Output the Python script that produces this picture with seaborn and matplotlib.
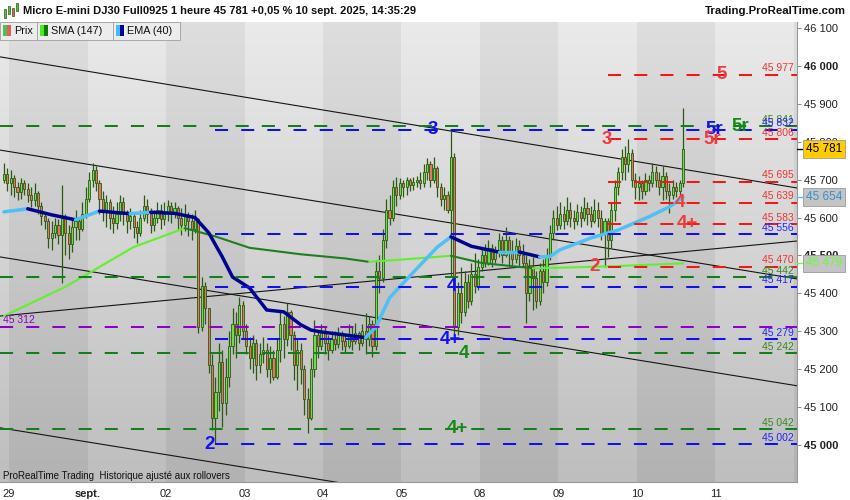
import numpy as np
import pandas as pd
import seaborn as sns
import matplotlib.pyplot as plt
import matplotlib.transforms as mtransforms
from matplotlib.patches import Rectangle

# hourly bars, 28 aug 21h -> 10 sept 14h (open of each bar = previous close)
first_open = 45700
closes = [
    45715, 45690, 45705, 45680, 45668, 45690, 45675, 45660, 45645, 45665,
    45630, 45605, 45590, 45545, 45560, 45580, 45555, 45600, 45560, 45530,
    45575, 45590, 45570, 45610, 45650, 45700, 45725, 45690, 45650, 45620,
    45640, 45600, 45585, 45610, 45640, 45610, 45590, 45605, 45575, 45560,
    45600, 45630, 45610, 45580, 45600, 45620, 45595, 45610, 45630, 45615,
    45625, 45600, 45580, 45605, 45590, 45570, 45595, 45310, 45420, 45360,
    45210, 45070, 45140, 45220, 45110, 45180, 45260, 45320, 45290, 45370,
    45300, 45260, 45230, 45270, 45210, 45240, 45250, 45200, 45230, 45180,
    45250, 45320, 45280, 45350, 45290, 45210, 45250, 45200, 45120, 45070,
    45200, 45290, 45260, 45300, 45270, 45250, 45280, 45265, 45290, 45275,
    45260, 45290, 45275, 45295, 45270, 45300, 45280, 45320, 45260, 45460,
    45440, 45540, 45620, 45600, 45680, 45660, 45690, 45680, 45700, 45685,
    45695, 45700, 45690, 45720, 45740, 45700, 45730, 45680, 45650, 45660,
    45620, 45760, 45310, 45400, 45350, 45430, 45380, 45450, 45420, 45470,
    45500, 45480, 45520, 45490, 45510, 45540, 45500, 45540, 45510, 45490,
    45525, 45500, 45480, 45400, 45470, 45440, 45380, 45460, 45430, 45500,
    45560, 45600, 45580, 45610, 45590, 45620, 45600, 45590, 45615, 45600,
    45625, 45610, 45590, 45620, 45600, 45560, 45590, 45540, 45620, 45680,
    45720, 45760, 45740, 45770, 45700, 45680, 45690, 45670, 45700, 45690,
    45720, 45700, 45680, 45710, 45670, 45660, 45680, 45670, 45690, 45781,
]
highs = [
    45744, 45730, 45725, 45712, 45695, 45705, 45700, 45690, 45680, 45690,
    45670, 45640, 45615, 45600, 45590, 45600, 45595, 45686, 45610, 45580,
    45600, 45620, 45600, 45640, 45680, 45720, 45744, 45735, 45700, 45670,
    45660, 45650, 45630, 45640, 45660, 45655, 45620, 45625, 45615, 45590,
    45620, 45660, 45650, 45625, 45620, 45640, 45635, 45640, 45645, 45640,
    45641, 45630, 45625, 45635, 45615, 45610, 45620, 45600, 45443, 45430,
    45348, 45240, 45180, 45270, 45250, 45230, 45300, 45360, 45350, 45390,
    45380, 45320, 45285, 45290, 45280, 45270, 45285, 45270, 45260, 45250,
    45280, 45350, 45340, 45375, 45355, 45300, 45280, 45270, 45210, 45150,
    45230, 45330, 45300, 45320, 45310, 45290, 45300, 45300, 45310, 45300,
    45290, 45320, 45310, 45322, 45300, 45320, 45348, 45340, 45330, 45488,
    45500, 45570, 45650, 45660, 45700, 45707, 45705, 45700, 45707, 45705,
    45707, 45710, 45720, 45740, 45757, 45750, 45760, 45735, 45690, 45680,
    45670, 45832, 45770, 45430, 45470, 45460, 45450, 45480, 45506, 45490,
    45520, 45530, 45540, 45530, 45525, 45560, 45550, 45575, 45550, 45540,
    45545, 45540, 45530, 45500, 45490, 45496, 45460, 45480, 45490, 45520,
    45580, 45620, 45630, 45640, 45630, 45654, 45640, 45620, 45635, 45630,
    45654, 45640, 45630, 45650, 45640, 45620, 45600, 45600, 45640, 45700,
    45733, 45780, 45790, 45806, 45780, 45717, 45710, 45700, 45717, 45712,
    45744, 45735, 45720, 45735, 45720, 45690, 45700, 45695, 45700, 45889,
]
lows = [
    45690, 45670, 45660, 45655, 45645, 45650, 45660, 45640, 45628, 45630,
    45610, 45580, 45570, 45520, 45515, 45545, 45530, 45427, 45500, 45490,
    45510, 45540, 45540, 45565, 45600, 45640, 45680, 45670, 45610, 45590,
    45575, 45570, 45560, 45570, 45590, 45580, 45560, 45570, 45545, 45533,
    45550, 45590, 45585, 45560, 45565, 45585, 45570, 45580, 45590, 45585,
    45600, 45570, 45555, 45565, 45550, 45541, 45560, 45296, 45300, 45320,
    45190, 45040, 45002, 45090, 45047, 45080, 45153, 45240, 45230, 45270,
    45280, 45240, 45200, 45190, 45172, 45190, 45215, 45180, 45164, 45170,
    45175, 45220, 45230, 45260, 45250, 45170, 45145, 45160, 45080, 45032,
    45066, 45180, 45230, 45250, 45240, 45224, 45243, 45250, 45255, 45250,
    45245, 45255, 45250, 45265, 45250, 45260, 45240, 45260, 45232, 45250,
    45400, 45430, 45520, 45580, 45590, 45630, 45650, 45655, 45660, 45670,
    45673, 45680, 45675, 45680, 45700, 45680, 45690, 45654, 45630, 45620,
    45612, 45443, 45279, 45290, 45322, 45340, 45360, 45370, 45400, 45410,
    45460, 45470, 45475, 45470, 45480, 45495, 45480, 45495, 45470, 45475,
    45480, 45470, 45470, 45322, 45380, 45356, 45360, 45370, 45400, 45420,
    45488, 45540, 45567, 45570, 45570, 45580, 45575, 45570, 45580, 45575,
    45590, 45580, 45575, 45585, 45575, 45540, 45470, 45495, 45520, 45590,
    45660, 45700, 45700, 45720, 45680, 45650, 45646, 45650, 45660, 45670,
    45680, 45680, 45660, 45646, 45650, 45612, 45650, 45654, 45660, 45680,
]

# moving averages read at a few bars
ema_bars = [0, 7, 14, 21, 28, 37, 43, 50, 56, 60, 64, 67, 72, 77, 82, 87, 90,
            93, 100, 106, 109, 113, 117, 127, 131, 137, 145, 151, 157, 160,
            163, 172, 180, 189, 195, 199]
ema_vals = [45615, 45623, 45607, 45594, 45617, 45610, 45614, 45611, 45600,
            45560, 45496, 45443, 45414, 45356, 45351, 45317, 45303, 45298,
            45290, 45283, 45311, 45388, 45427, 45522, 45549, 45524, 45509,
            45509, 45496, 45497, 45515, 45546, 45567, 45602, 45628, 45654]
sma_bars = [0, 18, 38, 53, 62, 72, 87, 100, 107, 118, 131, 140, 155, 165, 180, 199]
sma_vals = [45340, 45417, 45522, 45572, 45550, 45520, 45503, 45492, 45483,
            45490, 45499, 45480, 45466, 45468, 45472, 45479]

# day ticks
day_labels = ["29", "sept.", "02", "03", "04", "05", "08", "09", "10", "11"]
day_ticks = [1.5, 24.5, 47.5, 70.5, 93.5, 116.5, 139.5, 162.5, 185.5, 208.5]

# support / resistance levels
level_vals = [45977, 45841, 45832, 45806, 45695, 45639, 45583, 45556, 45470,
              45442, 45417, 45312, 45279, 45242, 45042, 45002]
level_kind = ["r", "g", "b", "r", "r", "r", "r", "b", "r", "g", "b", "p",
              "b", "g", "g", "b"]

tag_text = ["5", "5r", "5r", "3", "5r", "4", "4+", "2", "3", "4", "4+", "4", "4+", "2"]
tag_level = [45977, 45832, 45841, 45806, 45806, 45639, 45583, 45470, 45832,
             45417, 45279, 45242, 45042, 45002]
tag_bar = [210.4, 208.3, 215.7, 176.7, 207.5, 198.1, 200.4, 173.2, 125.7,
           131.3, 130.7, 134.8, 132.8, 60.4]
tag_kind = ["r", "b", "g", "r", "r", "r", "r", "r", "b", "b", "b", "g", "g", "b"]

# hand-drawn trend lines (bar, price) -> (bar, price)
trend_start = [(-1.14, 46024), (-1.14, 45778), (-1.14, 45496), (-1.14, 45340), (-1.14, 45045)]
trend_end = [(232.4, 45678), (232.4, 45438), (232.4, 45156), (232.4, 45538), (232.4, 44705)]

last_price = 45781
ema_last = 45654
sma_last = 45479

dash_col = {"r": "#ee1a1a", "g": "#12801a", "b": "#1010ee", "p": "#8d00c8"}
text_col = {"r": "#f03434", "g": "#3a8a1e", "b": "#2424ff", "p": "#8d00c8"}
tag_col = {"r": "#ee3b3b", "g": "#148a14", "b": "#1212f0"}
level_start = {"r": 177, "g": -1.14, "b": 62, "p": -1.14}

sns.set_style("white")
plt.rcParams["font.family"] = ["Liberation Sans", "DejaVu Sans"]

fig = plt.figure(figsize=(8.5, 5), dpi=100)
fig.patch.set_facecolor("white")
ax = fig.add_axes([0, 18 / 500, 797 / 850, 460 / 500])

x_left, x_right = -1.14, 232.4
y_low, y_high = 44902, 46116

# background gradient with alternating day bands
cols = np.linspace(x_left, x_right, 1600)
rows = np.linspace(0, 1, 200)[:, None]
light = (np.floor((cols - day_ticks[0]) / 23) % 2 == 1)[None, :]
base = 178 + 44 * rows
shade = np.where(light, base + 12, base) / 255
ax.imshow(np.dstack([shade] * 3), extent=[x_left, x_right, y_low, y_high],
          origin="lower", aspect="auto", interpolation="nearest", zorder=0)

# trend lines
for (xa, pa), (xb, pb) in zip(trend_start, trend_end):
    ax.plot([xa, xb], [pa, pb], color="#151515", lw=0.8, zorder=2)

# candles
o = np.r_[first_open, closes[:-1]].astype(float)
c = np.array(closes, float)
h = np.maximum(np.array(highs, float), np.maximum(o, c))
l = np.minimum(np.array(lows, float), np.minimum(o, c))
idx = np.arange(len(c))
up = c >= o
wick = "#2b5a12"
ax.vlines(idx, l, h, color=wick, lw=0.9, zorder=3)
body = np.where(np.abs(c - o) < 3, 3, c - o)
ax.bar(idx, body, bottom=o, width=0.62, color=np.where(up, "#6fdc4c", "#e4755f"),
       edgecolor=wick, linewidth=0.6, zorder=3.5)

# moving averages, light when rising, dark when falling
def draw_ma(bars, vals, rise_col, fall_col, lw):
    df = pd.DataFrame({"bar": bars, "val": vals})
    sign = np.sign(np.diff(df["val"]))
    start = 0
    for k in range(1, len(sign) + 1):
        if k == len(sign) or sign[k] != sign[start]:
            seg = df.iloc[start:k + 1]
            col = rise_col if sign[start] >= 0 else fall_col
            sns.lineplot(data=seg, x="bar", y="val", color=col, lw=lw, ax=ax,
                         sort=False, zorder=4, solid_capstyle="round")
            start = k

draw_ma(sma_bars, sma_vals, "#62f02e", "#1f7f1f", 1.5)
draw_ma(ema_bars, ema_vals, "#4fbff5", "#00048f", 2.5)

# levels
for v, k in zip(level_vals, level_kind):
    ax.hlines(v, level_start[k], x_right, colors=dash_col[k], lw=1.45,
              linestyles=(0, (6.5, 6.5)), zorder=5)
    lab = f"{v:,}".replace(",", " ")
    if k == "p":
        ax.annotate(lab, (x_left, v), xytext=(2, 1), textcoords="offset points",
                    ha="left", va="bottom", fontsize=7.5, color=text_col[k], zorder=6)
    else:
        ax.annotate(lab, (231.5, v), xytext=(0, 1), textcoords="offset points",
                    ha="right", va="bottom", fontsize=7.5, color=text_col[k], zorder=6)

for t, v, b, k in zip(tag_text, tag_level, tag_bar, tag_kind):
    ax.text(b, v, t, ha="center", va="center", fontsize=13.5, fontweight="bold",
            color=tag_col[k], zorder=7)

ax.text(0.004, 0.013, "ProRealTime Trading  Historique ajusté aux rollovers",
        transform=ax.transAxes, fontsize=7, color="#111", va="center", zorder=7)

ax.set_xlim(x_left, x_right)
ax.set_ylim(y_low, y_high)

# axes
for s in ["top", "left"]:
    ax.spines[s].set_visible(False)
ax.spines["right"].set_color("#999999")
ax.spines["bottom"].set_color("#999999")
ax.yaxis.tick_right()
yt = list(range(45000, 46101, 100))
ax.set_yticks(yt)
ax.set_yticklabels([f"{t:,}".replace(",", " ") for t in yt])
for lab, t in zip(ax.get_yticklabels(), yt):
    if t % 500 == 0:
        lab.set_fontweight("bold")
        lab.set_fontsize(9.5)
ax.tick_params(axis="y", length=3, width=0.7, pad=2, labelsize=8,
               color="#888888", labelcolor="#222222")
ax.set_xticks(day_ticks)
ax.set_xticklabels(day_labels)
ax.get_xticklabels()[1].set_fontweight("bold")
ax.tick_params(axis="x", length=4, width=0.7, pad=1, labelsize=8,
               color="#888888", labelcolor="#222222")
ax.set_xlabel("")
ax.set_ylabel("")

trans = mtransforms.blended_transform_factory(ax.transAxes, ax.transData)
for v, fc, tc, kc in [(last_price, "#ffcc00", "#000000", "#000000"),
                      (ema_last, "#c4c4c4", "#3a8fd0", "#4fbff5"),
                      (sma_last, "#c4c4c4", "#66ff33", "#66ff33")]:
    ax.plot([1.0, 1.01], [v, v], transform=trans, color=kc, lw=1, clip_on=False, zorder=20)
    ax.text(1.011, v, f"{v:,}".replace(",", " "), transform=trans, ha="left", va="center",
            fontsize=8.5, color=tc, clip_on=False, zorder=21,
            bbox=dict(boxstyle="square,pad=0.22", fc=fc, ec="#9a9a9a", lw=0.6))

# header
def fx(x):
    return x / 850

def fy(y):
    return 1 - y / 500

fig.text(fx(23), fy(11), "Micro E-mini DJ30 Full0925 1 heure 45 781 +0,05 % 10 sept. 2025, 14:35:29",
         fontsize=8, fontweight="bold", va="center", ha="left", color="#111")
fig.text(fx(846), fy(11), "Trading.ProRealTime.com", fontsize=8.2, fontweight="bold",
         va="center", ha="right", color="#111")
for xi, y0, y1, col in [(5, 9, 18, "#4fc04f"), (9, 6, 14, "#4fc04f"), (13, 8, 16, "#e06060"), (17, 3, 11, "#4fc04f")]:
    fig.add_artist(Rectangle((fx(xi - 1.3), fy(y1)), 2.6 / 850, (y1 - y0) / 500,
                             transform=fig.transFigure, fc=col, ec="#2b5a12", lw=0.5, zorder=30))

boxes = [(0, 37, "Prix", "#4fc04f", "#e06060"),
         (37, 113, "SMA (147)", "#44ee22", "#0b780b"),
         (113, 180, "EMA (40)", "#44bbff", "#000099")]
for x0, x1, lab, c1, c2 in boxes:
    fig.add_artist(Rectangle((fx(x0), fy(40)), (x1 - x0) / 850, 18 / 500,
                             transform=fig.transFigure, fc="#ececec", ec="#a8a8a8", lw=0.7, zorder=30))
    fig.add_artist(Rectangle((fx(x0 + 3), fy(36)), 4 / 850, 11 / 500,
                             transform=fig.transFigure, fc=c1, ec="none", zorder=31))
    fig.add_artist(Rectangle((fx(x0 + 7), fy(36)), 4 / 850, 11 / 500,
                             transform=fig.transFigure, fc=c2, ec="none", zorder=31))
    fig.text(fx(x0 + 14), fy(31), lab, fontsize=7.8, va="center", ha="left",
             color="#111", zorder=32)

fig.savefig("out.png", dpi=100)
